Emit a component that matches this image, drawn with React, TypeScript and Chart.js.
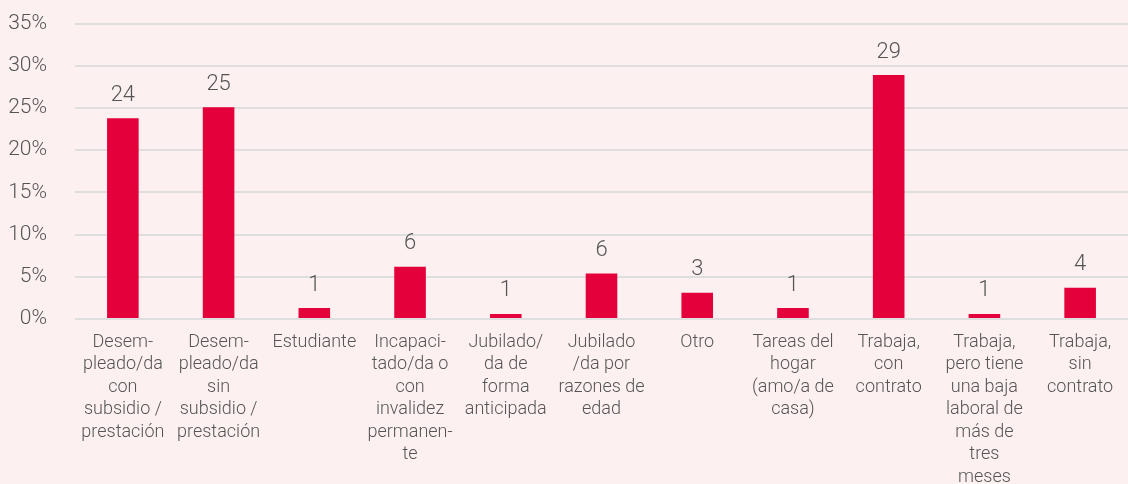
import React, { useEffect, useRef } from "react";
import { Chart, registerables } from "chart.js";

Chart.register(...registerables);

const categories: string[][] = [
  ["Desem-", "pleado/da", "con", "subsidio /", "prestación"],
  ["Desem-", "pleado/da", "sin", "subsidio /", "prestación"],
  ["Estudiante"],
  ["Incapaci-", "tado/da o", "con", "invalidez", "permanen-", "te"],
  ["Jubilado/", "da de", "forma", "anticipada"],
  ["Jubilado", "/da por", "razones de", "edad"],
  ["Otro"],
  ["Tareas del", "hogar", "(amo/a de", "casa)"],
  ["Trabaja,", "con", "contrato"],
  ["Trabaja,", "pero tiene", "una baja", "laboral de", "más de", "tres", "meses"],
  ["Trabaja,", "sin", "contrato"],
];

const values: number[] = [23.8, 25.1, 1.3, 6.2, 0.6, 5.4, 3.1, 1.3, 28.9, 0.6, 3.7];
const valueLabels: string[] = ["24", "25", "1", "6", "1", "6", "3", "1", "29", "1", "4"];
const yTicks: number[] = [0, 5, 10, 15, 20, 25, 30, 35];

const BG = "#fcf0f0";
const BAR = "#e4003b";
const TEXT = "#555555";
const FONT = "Roboto";
const SHIFT = 17;

const labelPlugin = {
  id: "valueLabels",
  afterDatasetsDraw(chart: any) {
    const ctx = chart.ctx;
    const meta = chart.getDatasetMeta(0);
    ctx.save();
    ctx.fillStyle = TEXT;
    ctx.font = `300 22px ${FONT}`;
    ctx.textAlign = "center";
    ctx.textBaseline = "bottom";
    meta.data.forEach((bar: any, i: number) => {
      ctx.fillText(valueLabels[i], bar.x, bar.y - 12);
    });
    ctx.restore();
  },
};

export default function App() {
  const ref = useRef<HTMLCanvasElement | null>(null);
  useEffect(() => {
    document.body.style.margin = "0";
    document.body.style.background = BG;
    const chart = new Chart(ref.current!, {
      type: "bar",
      data: {
        labels: categories,
        datasets: [
          {
            data: values,
            backgroundColor: BAR,
            barPercentage: 0.33,
            categoryPercentage: 1,
          },
        ],
      },
      options: {
        animation: false,
        responsive: false,
        maintainAspectRatio: false,
        layout: { padding: { top: 0, right: 0, left: 0, bottom: 0 } },
        plugins: {
          legend: { display: false },
          tooltip: { enabled: false },
        },
        scales: {
          x: {
            grid: { display: false, drawTicks: false },
            border: { display: false },
            ticks: {
              color: TEXT,
              font: { family: FONT, size: 18, weight: "300", lineHeight: 1.25 },
              padding: 12,
              maxRotation: 0,
              autoSkip: false,
            },
            afterFit(scale: any) {
              scale.height = 165;
            },
          },
          y: {
            min: 0,
            max: 35,
            afterBuildTicks(scale: any) {
              scale.ticks = yTicks.map((v) => ({ value: v }));
            },
            grid: { color: "#dedede", lineWidth: 2, drawTicks: false },
            border: { display: false },
            ticks: {
              color: TEXT,
              font: { family: FONT, size: 21, weight: "300" },
              padding: 28,
              callback: (v: any) => `${v}%`,
            },
            afterFit(scale: any) {
              scale.width = 75;
            },
          },
        },
      },
      plugins: [labelPlugin],
    });
    return () => chart.destroy();
  }, []);
  return (
    <div style={{ width: 1128, height: 484, background: BG, overflow: "hidden" }}>
      <canvas
        ref={ref}
        width={1128}
        height={484 + SHIFT}
        style={{ display: "block", marginTop: -SHIFT }}
      />
    </div>
  );
}
